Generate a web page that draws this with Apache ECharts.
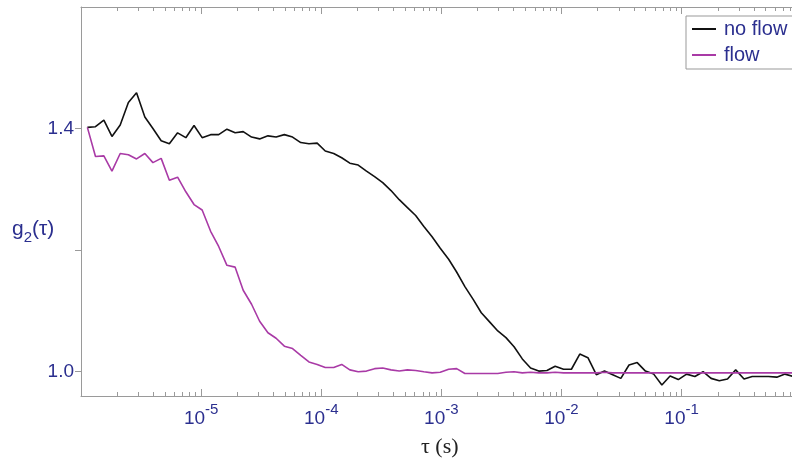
<!DOCTYPE html>
<html>
<head>
<meta charset="utf-8">
<script src="https://cdn.jsdelivr.net/npm/echarts@6/dist/echarts.min.js"></script>
<style>html,body{margin:0;padding:0;background:#fff;}#c{width:792px;height:464px;}</style>
</head>
<body>
<div id="c"></div>
<script>
// lag times tau (s)
const tau = [1.13e-6,1.32e-6,1.55e-6,1.81e-6,2.12e-6,2.48e-6,2.90e-6,3.40e-6,3.97e-6,4.65e-6,
5.44e-6,6.37e-6,7.46e-6,8.73e-6,1.02e-5,1.20e-5,1.40e-5,1.64e-5,1.92e-5,2.24e-5,
2.63e-5,3.07e-5,3.60e-5,4.21e-5,4.93e-5,5.77e-5,6.75e-5,7.90e-5,9.25e-5,1.08e-4,
1.27e-4,1.48e-4,1.73e-4,2.03e-4,2.38e-4,2.78e-4,3.25e-4,3.81e-4,4.46e-4,5.22e-4,
6.11e-4,7.15e-4,8.37e-4,9.79e-4,1.15e-3,1.34e-3,1.57e-3,1.84e-3,2.15e-3,2.52e-3,
2.95e-3,3.45e-3,4.03e-3,4.72e-3,5.53e-3,6.47e-3,7.57e-3,8.86e-3,1.04e-2,1.21e-2,
1.42e-2,1.66e-2,1.95e-2,2.28e-2,2.67e-2,3.12e-2,3.65e-2,4.27e-2,5.00e-2,5.86e-2,
6.85e-2,8.02e-2,9.39e-2,0.110,0.129,0.151,0.176,0.206,0.241,0.282,
0.331,0.387,0.453,0.530,0.620,0.726,0.850];

// g2(tau), no flow
const gNoFlow = [1.402,1.403,1.414,1.387,1.406,1.443,1.459,1.419,1.400,1.380,
1.375,1.393,1.385,1.405,1.385,1.390,1.390,1.399,1.393,1.395,
1.386,1.383,1.388,1.386,1.390,1.386,1.377,1.375,1.376,1.363,
1.359,1.352,1.343,1.340,1.330,1.321,1.311,1.298,1.283,1.270,
1.257,1.239,1.222,1.203,1.185,1.164,1.140,1.119,1.097,1.082,
1.067,1.056,1.041,1.021,1.006,1.001,1.002,1.009,1.004,1.004,
1.029,1.023,0.995,1.001,0.995,0.989,1.011,1.015,1.001,0.996,
0.978,0.993,0.987,0.996,0.992,1.000,0.989,0.985,0.988,1.003,
0.988,0.992,0.992,0.992,0.991,0.996,0.992];

// g2(tau), flow
const gFlow = [1.402,1.354,1.355,1.330,1.359,1.357,1.350,1.359,1.344,1.351,
1.315,1.320,1.296,1.275,1.266,1.231,1.206,1.175,1.172,1.134,
1.111,1.083,1.064,1.055,1.042,1.038,1.027,1.016,1.012,1.007,
1.007,1.012,1.003,1.000,1.001,1.005,1.006,1.003,1.001,1.003,
1.002,1.000,0.998,0.999,1.004,1.005,0.997,0.997,0.997,0.997,
0.997,0.999,1.000,0.998,0.999,0.998,0.998,0.999,0.998,0.998,
0.998,0.998,0.998,0.999,0.998,0.998,0.998,0.998,0.998,0.998,
0.998,0.998,0.998,0.998,0.998,0.998,0.998,0.998,0.998,0.998,
0.998,0.998,0.998,0.998,0.998,0.998,0.998];

const seriesNames = ['no flow', 'flow'];
const yTickValues = [1.0, 1.2, 1.4];
const yLabelValues = [1.0, 1.4];
const xLabelValues = [1e-5, 1e-4, 1e-3, 1e-2, 1e-1];
const decades = [1e-6, 1e-5, 1e-4, 1e-3, 1e-2, 1e-1];
const minorMult = [2, 3, 4, 5, 6, 7, 8, 9];

const xMinorTicks = [];
decades.forEach(d => minorMult.forEach(m => xMinorTicks.push(+(d * m).toPrecision(3))));

const NAVY = '#2b2f8f';
const AXIS = '#9a9a9a';
const FONT = 'Liberation Sans';

const xBase = {
  type: 'log', logBase: 10, min: 1e-6, max: 0.83, gridIndex: 0,
  splitLine: { show: false }, minorTick: { show: false }
};

const chart = echarts.init(document.getElementById('c'), null, { renderer: 'canvas' });
chart.setOption({
  animation: false,
  backgroundColor: '#fff',
  grid: { left: 81, right: 0, top: 7, bottom: 68, containLabel: false },
  legend: {
    orient: 'vertical', left: 686, top: 16,
    padding: [3, 14, 4, 6], itemGap: 6,
    backgroundColor: '#fff', borderColor: '#999', borderWidth: 1,
    icon: 'rect', itemWidth: 24, itemHeight: 2,
    textStyle: { fontFamily: FONT, fontSize: 20, color: NAVY, lineHeight: 19, padding: [0, 0, 0, 3] },
    data: seriesNames
  },
  xAxis: [
    Object.assign({}, xBase, {
      position: 'bottom',
      axisLine: { show: true, lineStyle: { color: AXIS, width: 1 } },
      axisTick: { show: true, inside: true, length: 7, lineStyle: { color: AXIS } },
      axisLabel: {
        customValues: xLabelValues,
        margin: 6,
        formatter: v => '{b|10}{s|' + Math.round(Math.log10(v)) + '}',
        rich: {
          b: { fontFamily: FONT, fontSize: 19, color: NAVY, lineHeight: 26, verticalAlign: 'bottom' },
          s: { fontFamily: FONT, fontSize: 15, color: NAVY, lineHeight: 15, verticalAlign: 'top' }
        }
      }
    }),
    Object.assign({}, xBase, {
      position: 'top',
      axisLine: { show: true, lineStyle: { color: AXIS, width: 1 } },
      axisTick: { show: true, inside: true, length: 7, lineStyle: { color: AXIS } },
      axisLabel: { show: false }
    }),
    Object.assign({}, xBase, {
      position: 'bottom',
      axisLine: { show: false },
      axisTick: { show: true, inside: true, length: 4, customValues: xMinorTicks, lineStyle: { color: AXIS } },
      axisLabel: { show: false }
    }),
    Object.assign({}, xBase, {
      position: 'top',
      axisLine: { show: false },
      axisTick: { show: true, inside: true, length: 4, customValues: xMinorTicks, lineStyle: { color: AXIS } },
      axisLabel: { show: false }
    })
  ],
  yAxis: {
    type: 'value', min: 0.96, max: 1.6,
    splitLine: { show: false },
    axisLine: { show: true, lineStyle: { color: AXIS, width: 1 } },
    axisTick: { show: true, inside: false, length: 6, customValues: yTickValues, lineStyle: { color: AXIS } },
    axisLabel: {
      customValues: yLabelValues, margin: 7,
      formatter: v => Number(v).toFixed(1),
      fontFamily: FONT, fontSize: 19, color: NAVY
    }
  },
  graphic: [
    {
      type: 'text', left: 12, top: 219,
      style: {
        text: '{a|g}{b|2}{a|(τ)}',
        rich: {
          a: { fontFamily: FONT, fontSize: 21, fill: NAVY, lineHeight: 26, verticalAlign: 'top' },
          b: { fontFamily: FONT, fontSize: 15, fill: NAVY, lineHeight: 26, verticalAlign: 'bottom' }
        }
      }
    },
    {
      type: 'text', left: 421, top: 436,
      style: { text: 'τ (s)', fontFamily: 'Liberation Serif', fontSize: 22, fill: '#222' }
    }
  ],
  series: [
    {
      name: seriesNames[0], type: 'line', xAxisIndex: 0, yAxisIndex: 0,
      data: tau.map((t, i) => [t, gNoFlow[i]]),
      showSymbol: false, symbol: 'none', clip: true,
      lineStyle: { color: '#111111', width: 1.6 }, itemStyle: { color: '#111111' }
    },
    {
      name: seriesNames[1], type: 'line', xAxisIndex: 0, yAxisIndex: 0,
      data: tau.map((t, i) => [t, gFlow[i]]),
      showSymbol: false, symbol: 'none', clip: true,
      lineStyle: { color: '#a93aa6', width: 1.6 }, itemStyle: { color: '#a93aa6' }
    }
  ]
});
</script>
</body>
</html>
